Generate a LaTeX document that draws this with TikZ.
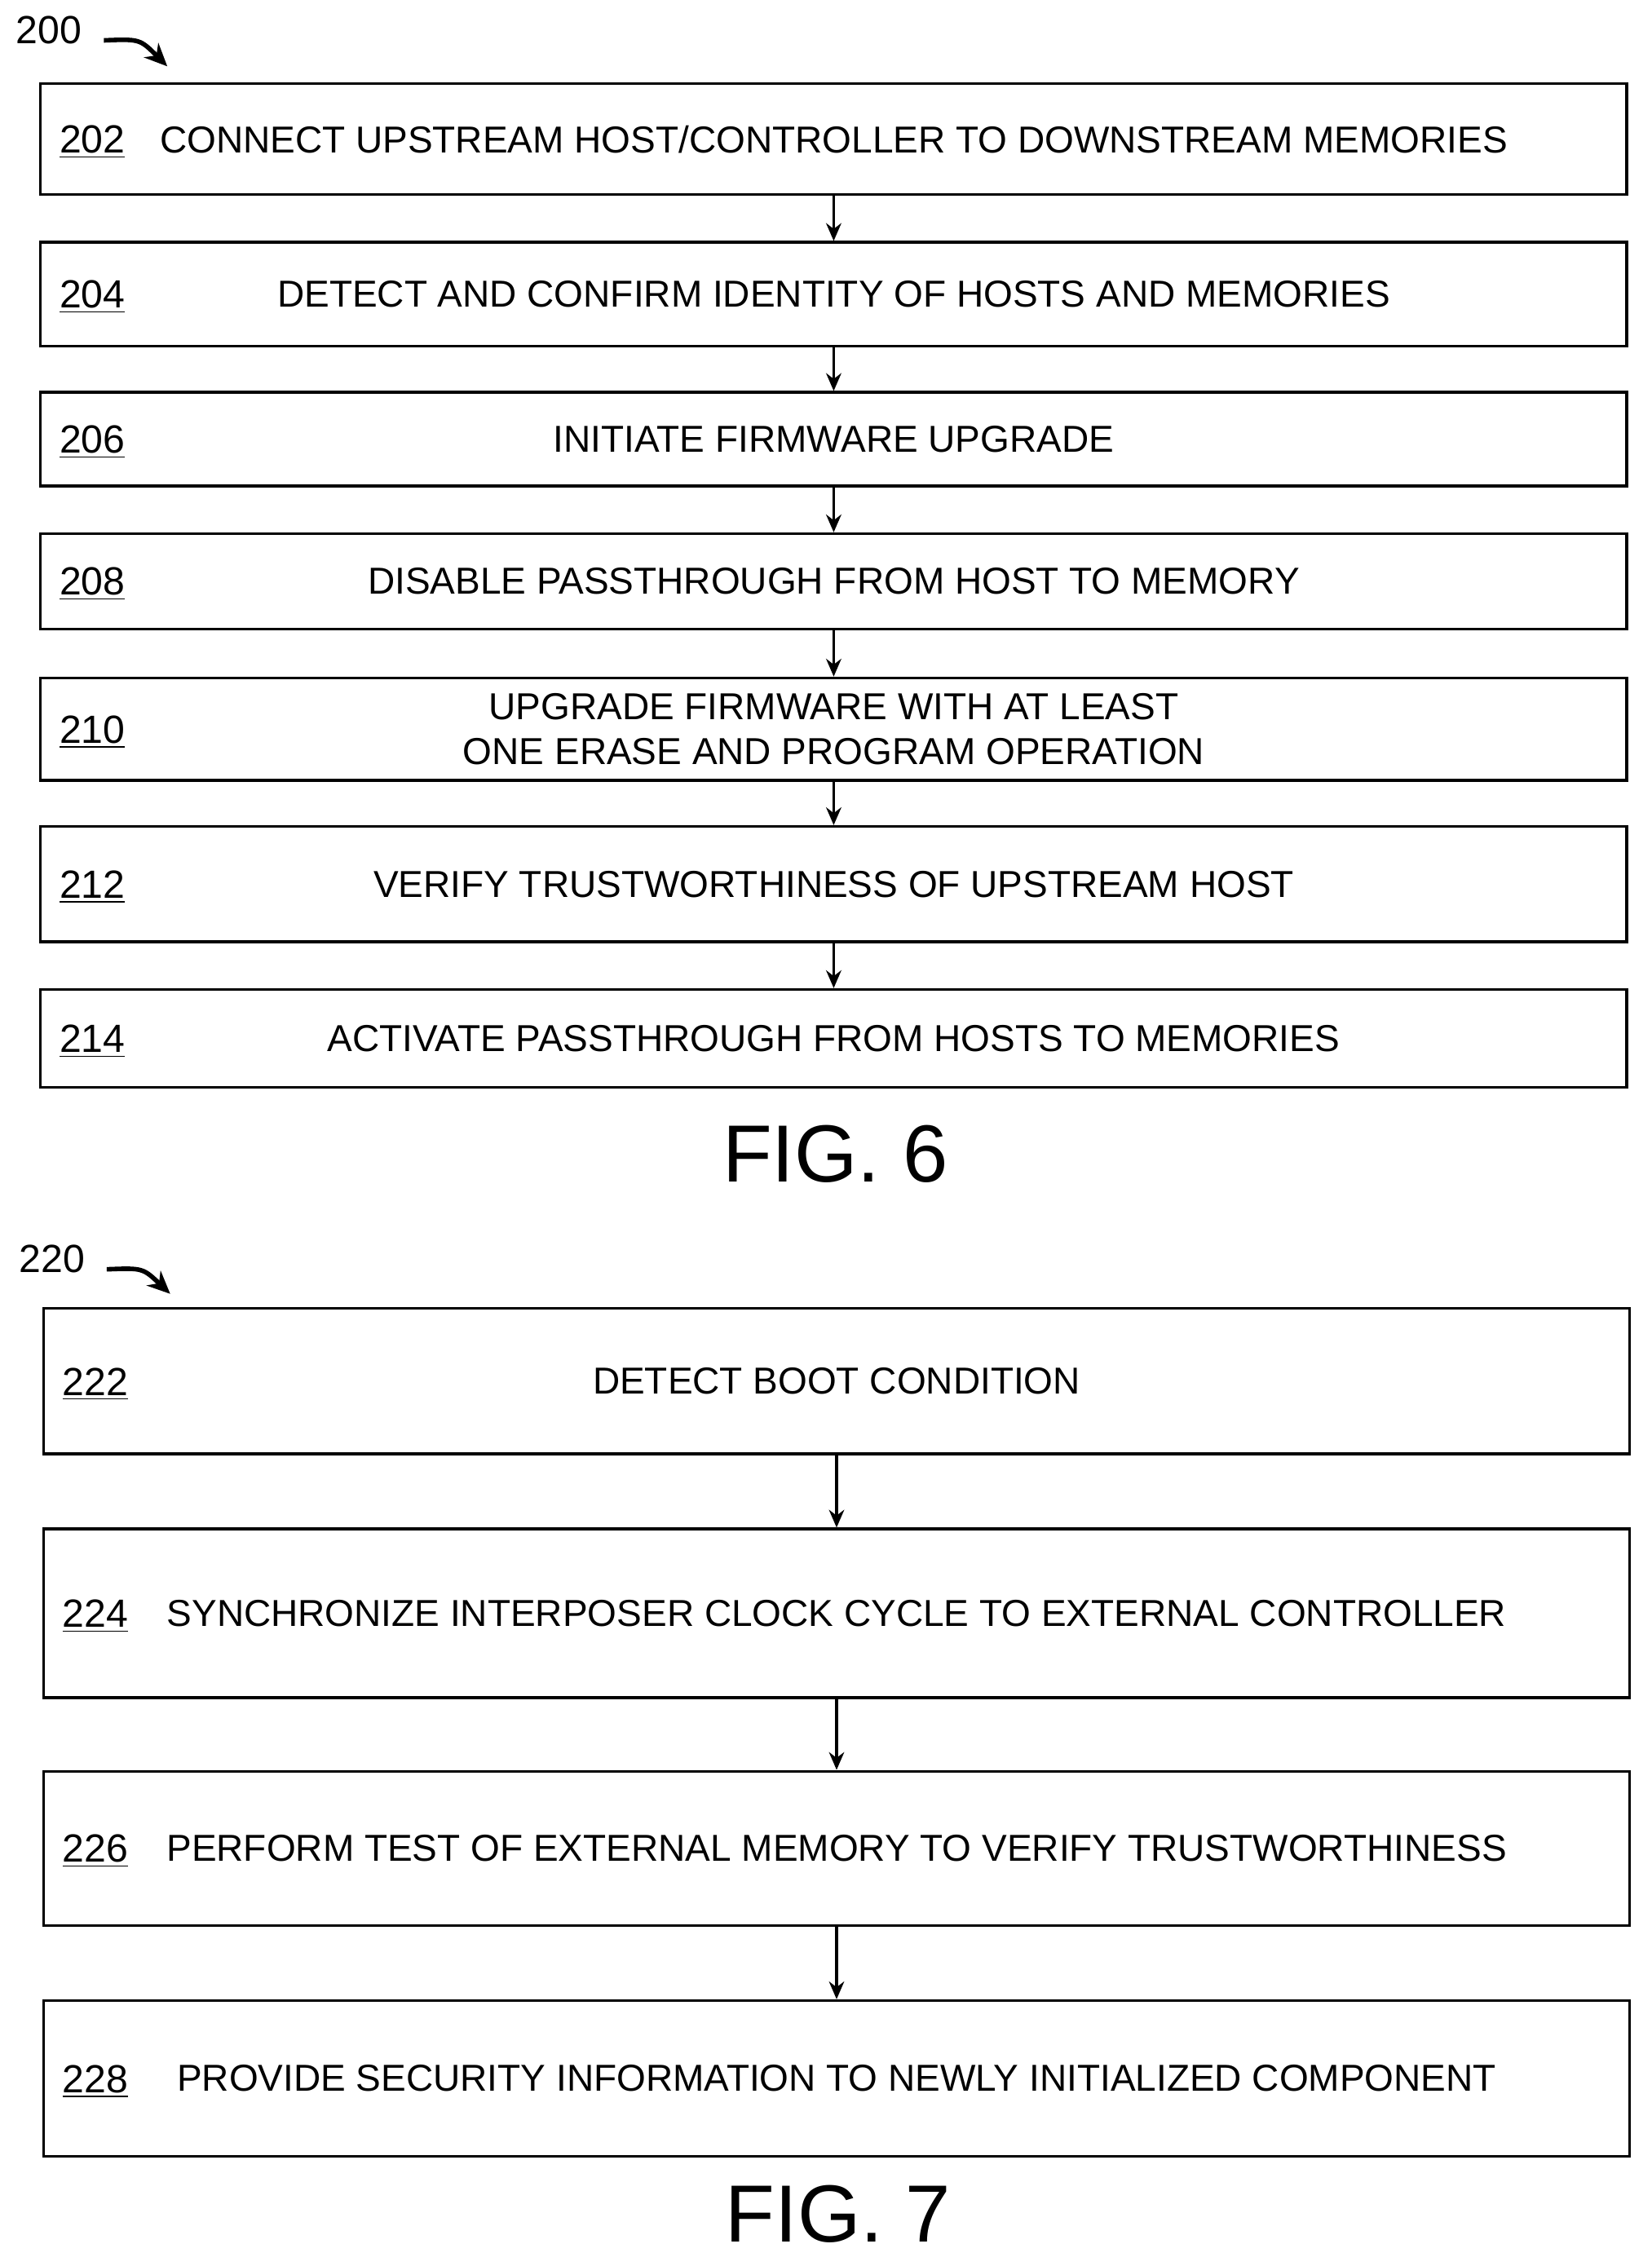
\documentclass[tikz,border=0pt]{standalone}
\usepackage{fontspec}
\setmainfont{Liberation Sans}
\usetikzlibrary{arrows.meta}
\tikzset{
  stepbox/.style={draw, line width=1.1pt, minimum width=22cm, inner sep=0pt, align=center,
    font=\fontsize{14.8}{17.5}\selectfont},
  num/.style={font=\fontsize{15.5}{18}\selectfont, inner sep=0pt},
  flow/.style={-{Stealth[length=7pt,width=6pt]}, line width=1.1pt},
  callout/.style={-{Stealth[length=9pt,width=8pt]}, line width=1.8pt},
  figlabel/.style={font=\fontsize{32}{36}\selectfont, inner sep=0pt}
}
\begin{document}
\begin{tikzpicture}[x=0.02cm, y=-0.02cm]
            \useasboundingbox (0,0) rectangle (1145,1571);

            % FIG. 6
            \node[num] (l200) at (34,21) {200};
            \coordinate (a200s) at (72,28);
            \coordinate (a200e) at (116,46);
            \draw[callout] (a200s) .. controls (97,27) .. (a200e);

            \node[stepbox, minimum height=1.54cm] (s202) at (578,96.5) {CONNECT UPSTREAM HOST/CONTROLLER TO DOWNSTREAM MEMORIES};
            \node[stepbox, minimum height=1.44cm] (s204) at (578,204) {DETECT AND CONFIRM IDENTITY OF HOSTS AND MEMORIES};
            \node[stepbox, minimum height=1.30cm] (s206) at (578,304.5) {INITIATE FIRMWARE UPGRADE};
            \node[stepbox, minimum height=1.32cm] (s208) at (578,403) {DISABLE PASSTHROUGH FROM HOST TO MEMORY};
            \node[stepbox, minimum height=1.42cm] (s210) at (578,505.5) {UPGRADE FIRMWARE WITH AT LEAST\\ONE ERASE AND PROGRAM OPERATION};
            \node[stepbox, minimum height=1.60cm] (s212) at (578,613) {VERIFY TRUSTWORTHINESS OF UPSTREAM HOST};
            \node[stepbox, minimum height=1.36cm] (s214) at (578,720) {ACTIVATE PASSTHROUGH FROM HOSTS TO MEMORIES};

            \foreach \n/\y in {202/96.5, 204/204, 206/304.5, 208/403, 210/505.5, 212/613, 214/720}
                \node[num] (n\n) at (64,\y+2) {\underline{\n}};

            \foreach \a/\b in {202/204, 204/206, 206/208, 208/210, 210/212, 212/214}
                \draw[flow] (s\a.south) -- (s\b.north);

            \node[figlabel] (fig6) at (579,800) {FIG. 6};

            % FIG. 7
            \node[num] (l220) at (36,873) {220};
            \coordinate (a220s) at (74,880);
            \coordinate (a220e) at (118,897);
            \draw[callout] (a220s) .. controls (99,879) .. (a220e);

            \node[stepbox, minimum height=2.02cm] (s222) at (580,957.5) {DETECT BOOT CONDITION};
            \node[stepbox, minimum height=2.34cm] (s224) at (580,1118.5) {SYNCHRONIZE INTERPOSER CLOCK CYCLE TO EXTERNAL CONTROLLER};
            \node[stepbox, minimum height=2.14cm] (s226) at (580,1281.5) {PERFORM TEST OF EXTERNAL MEMORY TO VERIFY TRUSTWORTHINESS};
            \node[stepbox, minimum height=2.16cm] (s228) at (580,1441) {PROVIDE SECURITY INFORMATION TO NEWLY INITIALIZED COMPONENT};

            \foreach \n/\y in {222/957.5, 224/1118.5, 226/1281.5, 228/1441}
                \node[num] (n\n) at (66,\y+2) {\underline{\n}};

            \foreach \a/\b in {222/224, 224/226, 226/228}
                \draw[flow] (s\a.south) -- (s\b.north);

            \node[figlabel] (fig7) at (581,1535) {FIG. 7};
\end{tikzpicture}
\end{document}
